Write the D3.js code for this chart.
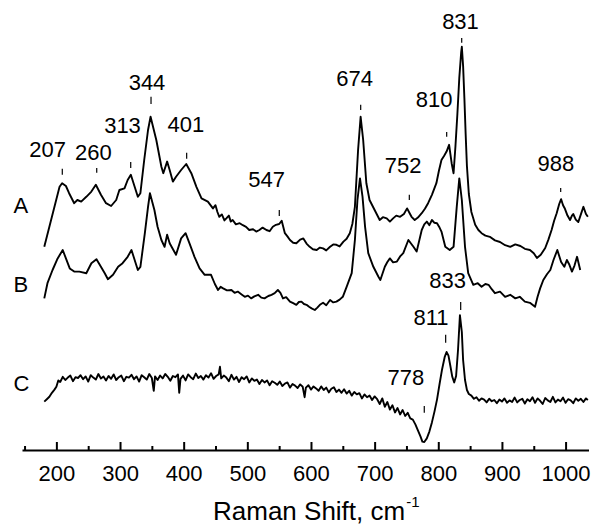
<!DOCTYPE html>
<html>
<head>
<meta charset="utf-8">
<script src="https://cdn.jsdelivr.net/npm/d3@7"></script>
<style>
  html, body { margin: 0; padding: 0; background: #fff; }
  svg { display: block; }
  text { font-family: "Liberation Sans", Arial, Helvetica, sans-serif; fill: #000; }
</style>
</head>
<body>
<svg id="chart" width="594" height="529"></svg>
<script>
// ---- Data (Raman shift in cm^-1, intensity in arbitrary stacked units) ----
const shiftA = [181,205,209,215,220,228,233,239,247,255,262,270,278,286,294,299,307,312,317,323,328,332,338,344,348,357,365,368,374,378,383,388,396,404,412,420,428,438,446,450,453,456,460,464,467,471,474,477,482,488,493,498,503,509,514,519,524,530,535,540,545,550,554,559,563,567,572,577,583,588,593,598,603,609,614,619,624,630,635,640,645,651,656,661,665,669,674,678,682,687,692,700,708,713,719,724,729,734,740,746,751,755,758,763,768,774,779,784,790,797,801,805,809,813,817,821,824,827,830,833,836,837,839,841,843,845,848,852,858,863,868,874,881,889,897,905,913,921,929,936,944,950,955,961,968,973,978,982,986,990,993,996,999,1003,1007,1010,1012,1016,1020,1024,1028,1032,1035];
const intensityA = [50.8,65.8,66.7,66.0,64.2,61.7,62.5,62.1,63.3,64.6,66.3,63.8,61.7,61.0,62.5,65.0,65.4,67.5,68.8,65.8,63.3,64.2,72.5,80.0,83.3,77.5,70.8,69.2,72.1,70.0,67.1,68.3,70.0,71.5,69.2,65.8,62.9,62.1,60.4,61.2,59.5,58.3,58.9,57.4,57.9,58.6,57.1,57.5,56.4,56.7,56.2,55.8,55.0,55.2,54.6,55.0,55.6,55.0,54.7,55.8,56.3,56.5,57.3,54.2,53.4,52.5,51.8,51.7,52.6,52.9,51.6,50.8,50.2,50.0,50.6,50.4,49.9,50.8,51.4,51.3,50.9,52.1,52.8,54.2,56.5,60.8,75.0,83.3,77.5,66.7,62.5,60.0,57.5,58.2,57.9,57.1,57.9,58.6,58.3,59.0,60.4,59.2,58.3,57.5,58.1,59.2,60.3,61.7,63.8,66.7,69.8,72.5,73.5,74.6,76.3,71.7,69.2,76.0,84.0,93.0,99.5,100.8,96.0,88.0,79.0,71.0,64.0,59.5,56.3,55.0,54.2,53.6,53.3,52.4,52.0,51.2,50.8,51.4,51.0,50.3,50.0,49.2,48.0,48.8,50.5,52.6,55.0,57.3,59.2,61.5,62.7,61.2,60.3,58.6,57.5,58.6,59.0,57.6,57.0,58.9,60.8,59.0,58.3];

const shiftB = [181,186,194,202,210,215,221,228,236,247,255,263,270,276,281,289,297,304,312,318,323,328,332,339,344,347,354,359,365,370,374,378,381,388,396,403,409,417,425,433,443,449,454,458,462,468,475,480,485,491,496,501,506,511,517,522,527,533,538,543,548,552,556,561,567,572,577,581,585,589,593,597,601,606,610,614,619,624,630,635,640,645,650,656,664,669,673,677,681,685,690,698,706,709,716,720,724,729,735,740,745,753,761,766,774,778,782,786,790,794,798,802,805,811,818,824,829,833,837,842,847,855,862,868,874,879,884,889,897,905,913,921,928,936,944,952,956,960,965,971,976,981,987,993,998,1002,1006,1010,1014,1018,1023,1028,1034];
const intensityB = [37.9,41.7,45.0,47.9,50.0,47.9,45.4,44.6,44.6,44.2,46.7,47.7,45.8,44.2,42.7,43.8,45.8,46.7,48.3,50.0,47.5,45.0,45.8,54.2,60.8,64.2,60.0,55.8,52.5,50.8,53.8,51.7,50.8,48.8,52.9,54.2,51.7,48.3,45.4,43.8,43.8,41.5,40.0,40.8,40.4,39.9,40.0,39.3,39.6,38.9,38.3,38.6,37.9,38.4,38.8,38.1,37.9,38.5,38.8,39.2,40.0,39.3,37.9,38.2,37.1,36.7,36.3,37.0,37.1,36.5,36.3,35.8,35.4,35.0,35.6,36.3,36.8,36.2,37.5,36.9,37.1,37.6,38.3,40.8,44.2,52.5,62.5,67.9,63.3,55.8,49.2,45.8,43.3,42.5,45.8,47.0,47.9,46.9,47.1,48.4,49.2,52.5,50.8,49.6,55.0,56.4,57.1,56.2,57.5,56.8,56.7,55.6,54.6,50.8,50.0,50.8,60.8,67.9,62.5,50.8,44.2,41.3,41.7,40.8,41.5,41.3,40.2,39.2,39.6,38.3,38.8,37.9,38.3,37.1,36.8,35.8,38.3,40.4,42.5,44.0,45.0,47.5,50.0,47.0,45.8,47.5,46.3,44.6,46.1,48.3,45.0];

const shiftC = [181,185,189,193,197,200,
  203,206,210,214,218,222,226,230,234,238,242,246,250,254,258,262,266,270,274,278,282,286,290,294,298,302,306,310,314,318,322,326,330,334,338,342,346,350,
  353,355,359,363,367,371,375,379,383,387,391,
  393,395,399,403,407,411,415,419,423,427,431,435,439,443,447,451,455,
  457,459,463,467,471,475,479,483,487,491,495,499,503,507,511,515,519,523,527,531,535,539,543,547,551,555,559,563,567,571,575,579,583,587,
  590,592,596,600,604,608,612,616,620,624,628,632,636,640,644,648,652,656,660,664,668,672,676,680,684,688,692,696,700,704,708,712,716,720,724,728,732,736,740,744,748,752,756,760,
  764,768,772,775,778,782,786,790,794,798,802,806,810,813,816,819,822,825,828,831,834,837,839,842,845,848,
  852,856,860,864,868,872,876,880,884,888,892,896,900,904,908,912,916,920,924,928,932,936,940,944,948,952,956,960,964,968,972,976,980,984,988,992,996,1000,1004,1008,1012,1016,1020,1024,1028,1032,1035];
const intensityC = [12.1,12.7,13.3,14.3,15.1,15.8,
  17.4,17.0,18.3,17.5,18.1,18.6,17.2,18.2,18.0,18.7,17.7,18.4,17.1,18.7,18.1,17.6,19.0,17.9,18.4,17.4,18.5,17.8,18.9,17.5,18.2,18.6,17.2,18.3,18.1,18.8,17.7,18.4,17.1,18.7,18.2,17.6,19.0,18.0,
  14.8,18.4,17.5,18.6,17.9,19.0,18.3,17.3,18.5,18.2,18.9,
  14.3,17.8,18.6,17.4,18.9,18.2,17.7,19.1,18.0,18.5,17.6,18.7,18.1,19.2,17.8,18.5,18.9,
  20.8,17.9,18.6,18.1,17.2,18.8,17.6,18.3,17.0,18.2,17.7,18.4,16.9,17.9,17.3,17.6,16.5,17.5,16.9,17.4,16.2,17.2,16.8,16.3,17.1,16.0,16.6,16.9,15.6,16.5,16.1,15.5,16.4,15.8,
  13.2,15.6,16.2,15.1,15.9,15.4,14.8,15.9,15.0,15.6,14.4,15.3,15.7,14.5,15.1,14.3,15.2,14.1,14.8,13.6,14.5,13.9,14.2,12.9,13.9,13.2,13.6,12.5,13.4,12.7,11.5,12.9,10.8,12.0,10.1,11.2,9.4,10.5,8.9,10.0,8.5,9.3,7.9,7.6,
  6.4,4.9,3.4,2.1,2.0,2.9,4.6,6.9,9.6,12.6,16.5,20.2,23.2,24.5,23.6,21.0,18.3,16.9,18.5,25.0,33.7,29.5,22.5,17.5,15.0,14.0,
  13.6,12.8,13.2,12.3,12.9,12.6,11.9,12.8,12.2,12.5,11.7,12.6,12.1,12.9,11.8,12.4,12.0,13.1,11.9,12.5,12.8,11.6,12.7,12.2,13.2,11.8,12.9,12.3,11.5,13.0,12.4,12.0,13.3,11.9,12.6,12.2,13.1,11.8,12.7,12.4,11.7,12.9,12.3,12.8,12.0,12.9,12.5];

const traceNames = ["A", "B", "C"];
const traceLabelIntensity = [59.3, 39.5, 14.8];   // where the trace letters sit (intensity units)

const xTicks = [200, 300, 400, 500, 600, 700, 800, 900, 1000];
const xMinorTicks = [150, 250, 350, 450, 550, 650, 750, 850, 950];

// Peak annotations: label text, tick position (cm^-1), tick extent (intensity), text position
const peakText   = ["207","260","313","344","401","547","674","752","810","831","988","833","811","778"];
const peakTickX  = [209.3,263.4,316.8,348.7,404.7,550.2,678.1,754.5,813.2,836.8,992.3,835.2,811.6,778.0];
const peakTickLo = [68.8,69.3,70.5,86.5,72.8,58.5,85.0,62.5,78.3,101.8,64.5,35.0,26.8,9.3];
const peakTickHi = [70.3,70.5,72.0,88.3,74.3,60.0,86.3,63.8,79.5,103.0,65.5,37.0,28.8,11.0];
const peakTextX  = [186.1,258.0,303.9,342.4,403.3,530.4,668.4,744.6,793.3,834.9,984.6,814.8,788.6,749.0];
const peakTextY  = [73.3,72.5,79.3,90.0,79.5,65.8,91.0,69.3,85.8,105.3,69.8,40.5,31.3,16.3];

// ---- Drawing ----
const svg = d3.select("#chart");
const x = d3.scaleLinear().domain([146, 1036]).range([22, 588.5]);
const y = d3.scaleLinear().domain([0, 100]).range([450, 50]);

const line = d3.line().x(d => x(d[0])).y(d => y(d[1])).curve(d3.curveLinear);

const traces = [
  d3.zip(shiftA, intensityA),
  d3.zip(shiftB, intensityB),
  d3.zip(shiftC, intensityC)
];

svg.append("g").selectAll("path").data(traces).join("path")
  .attr("d", line)
  .attr("fill", "none")
  .attr("stroke", "#000")
  .attr("stroke-width", 1.9)
  .attr("stroke-linejoin", "round");

// trace letters
svg.append("g").selectAll("text").data(traceNames).join("text")
  .attr("x", 13.5)
  .attr("y", (d, i) => y(traceLabelIntensity[i]))
  .attr("font-size", 22)
  .text(d => d);

// peak annotations
const ann = svg.append("g");
peakText.forEach((t, i) => {
  ann.append("line")
    .attr("x1", x(peakTickX[i])).attr("x2", x(peakTickX[i]))
    .attr("y1", y(peakTickLo[i])).attr("y2", y(peakTickHi[i]))
    .attr("stroke", "#000").attr("stroke-width", 1.2);
  ann.append("text")
    .attr("x", x(peakTextX[i]))
    .attr("y", y(peakTextY[i]))
    .attr("text-anchor", "middle")
    .attr("font-size", 22)
    .text(t);
});

// x axis
const axisG = svg.append("g").attr("transform", "translate(0,450)");
axisG.call(d3.axisBottom(x).tickValues(xTicks).tickSize(-8).tickSizeOuter(0).tickPadding(15).tickFormat(d3.format("d")));
axisG.select(".domain").attr("stroke", "#000").attr("stroke-width", 2);
axisG.selectAll(".tick line").attr("stroke", "#000").attr("stroke-width", 2);
axisG.selectAll(".tick text").attr("font-size", 22).attr("font-family", '"Liberation Sans", Arial, sans-serif').attr("fill", "#000");

const minorG = svg.append("g").attr("transform", "translate(0,450)");
minorG.call(d3.axisBottom(x).tickValues(xMinorTicks).tickSize(-4).tickSizeOuter(0).tickFormat(""));
minorG.select(".domain").remove();
minorG.selectAll(".tick line").attr("stroke", "#000").attr("stroke-width", 2);

// axis title
const title = svg.append("text")
  .attr("x", 213)
  .attr("y", 520)
  .attr("font-size", 26);
title.append("tspan").text("Raman Shift, cm");
title.append("tspan").attr("font-size", 15).attr("dy", -13).attr("dx", 1).text("-1");
</script>
</body>
</html>
